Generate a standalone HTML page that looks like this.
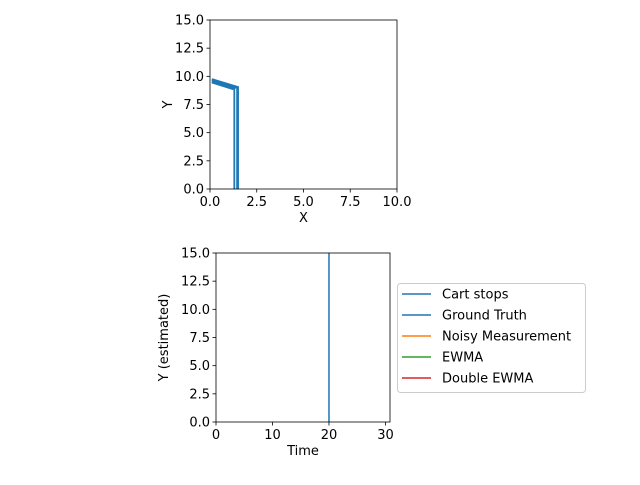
<!DOCTYPE html>
<html><head><meta charset="utf-8"><style>
body{margin:0;background:#fff;}
svg text{font-family:"DejaVu Sans","Liberation Sans",sans-serif;fill:#000;}
</style></head><body>
<svg width="640" height="480" xmlns="http://www.w3.org/2000/svg">
<g id="top"></g>
<g id="bot"></g>
<g id="leg"></g>
</svg>
<script>
// Top plot data: path of the cart (several traces forming thick band)
const pathXs = [
  [0.1, 1.5, 1.5],
  [0.1, 1.45, 1.45],
  [0.1, 1.4],
  [0.1, 1.35],
  [0.1, 1.3, 1.3],
  [0.1, 1.25]
];
const pathYs = [
  [9.75, 9.05, 0],
  [9.7, 9.0, 0],
  [9.65, 8.97],
  [9.6, 8.93],
  [9.5, 8.88, 0],
  [9.45, 8.85]
];
const topXTicks = [0, 2.5, 5, 7.5, 10];
const topXLabels = ["0.0","2.5","5.0","7.5","10.0"];
const topYTicks = [0, 2.5, 5, 7.5, 10, 12.5, 15];
const topYLabels = ["0.0","2.5","5.0","7.5","10.0","12.5","15.0"];
// Bottom plot data
const stopTime = [20];
const botXTicks = [0, 10, 20, 30];
const botYTicks = [0, 2.5, 5, 7.5, 10, 12.5, 15];
const botYLabels = ["0.0","2.5","5.0","7.5","10.0","12.5","15.0"];
const legendLabels = ["Cart stops","Ground Truth","Noisy Measurement","EWMA","Double EWMA"];
const legendColors = ["#1f77b4","#1f77b4","#ff7f0e","#2ca02c","#d62728"];

const NS="http://www.w3.org/2000/svg";
function mk(parent,tag,attrs,text){const e=document.createElementNS(NS,tag);for(const k in attrs)e.setAttribute(k,attrs[k]);if(text!==undefined)e.textContent=text;parent.appendChild(e);return e;}

function axes(g,L,T,R,B,x0,x1,y0,y1,xt,xl,yt,yl,xlabel,ylabel,prefix){
  const sx=v=>L+(v-x0)/(x1-x0)*(R-L), sy=v=>B-(v-y0)/(y1-y0)*(B-T);
  xt.forEach((v,i)=>{const x=sx(v);
    const t=mk(g,'line',{x1:x,x2:x,y1:B,y2:B+3.5,stroke:'#000','stroke-width':0.8});
    
    const tx=mk(g,'text',{x:x,y:B+17,'font-size':13,'text-anchor':'middle'},xl[i]);
    });
  yt.forEach((v,i)=>{const y=sy(v);
    const t=mk(g,'line',{x1:L-3.5,x2:L,y1:y,y2:y,stroke:'#000','stroke-width':0.8});
    
    const tx=mk(g,'text',{x:L-6,y:y+4.5,'font-size':13,'text-anchor':'end'},yl[i]);
    });
  const xa=mk(g,'text',{x:(L+R)/2,y:B+33,'font-size':13,'text-anchor':'middle'},xlabel);
  
  const yx=L-48+(ylabel.length>2?0:10), yy=(T+B)/2;
  const ya=mk(g,'text',{x:yx,y:yy,'font-size':13,'text-anchor':'middle',transform:`rotate(-90 ${yx} ${yy})`},ylabel);
  
  return {sx,sy};
}
function frame(g,L,T,R,B,prefix){
  const f=mk(g,'rect',{x:L,y:T,width:R-L,height:B-T,fill:'none',stroke:'#000','stroke-width':0.8});
  
}
// top
const tg=document.getElementById('top');
const ta=axes(tg,210,20,397,189,0,10,0,15,topXTicks,topXLabels,topYTicks,topYLabels,'X','Y','top');
const tclip=mk(tg,'clipPath',{id:'tc'});mk(tclip,'rect',{x:210,y:20,width:187,height:169});
pathXs.forEach((xs,i)=>{
  const pts=xs.map((x,j)=>ta.sx(x)+','+ta.sy(pathYs[i][j])).join(' ');
  const p=mk(tg,'polyline',{points:pts,fill:'none',stroke:'#1f77b4','stroke-width':1.8,'clip-path':'url(#tc)'});
  
});
frame(tg,210,20,397,189,'top');
// bottom
const bg=document.getElementById('bot');
const ba=axes(bg,216,253,390,422,0,30.8,0,15,botXTicks,botXTicks.map(String),botYTicks,botYLabels,'Time','Y (estimated)','bottom');
stopTime.forEach(t=>{
  const l=mk(bg,'line',{x1:ba.sx(t),x2:ba.sx(t),y1:253,y2:422,stroke:'#1f77b4','stroke-width':1.5});
  
});
frame(bg,216,253,390,422,'bottom');
// legend
const lg=document.getElementById('leg');
const box=mk(lg,'rect',{x:397.5,y:283.5,width:188,height:109,rx:3,fill:'#fff',stroke:'#ccc','stroke-width':1});

legendLabels.forEach((lab,i)=>{
  const y=294+i*21;
  const l=mk(lg,'line',{x1:402,x2:431,y1:y,y2:y,stroke:legendColors[i],'stroke-width':1.5});
  
  const t=mk(lg,'text',{x:442,y:y+4.5,'font-size':13},lab);
  
});
</script>
</body></html>
